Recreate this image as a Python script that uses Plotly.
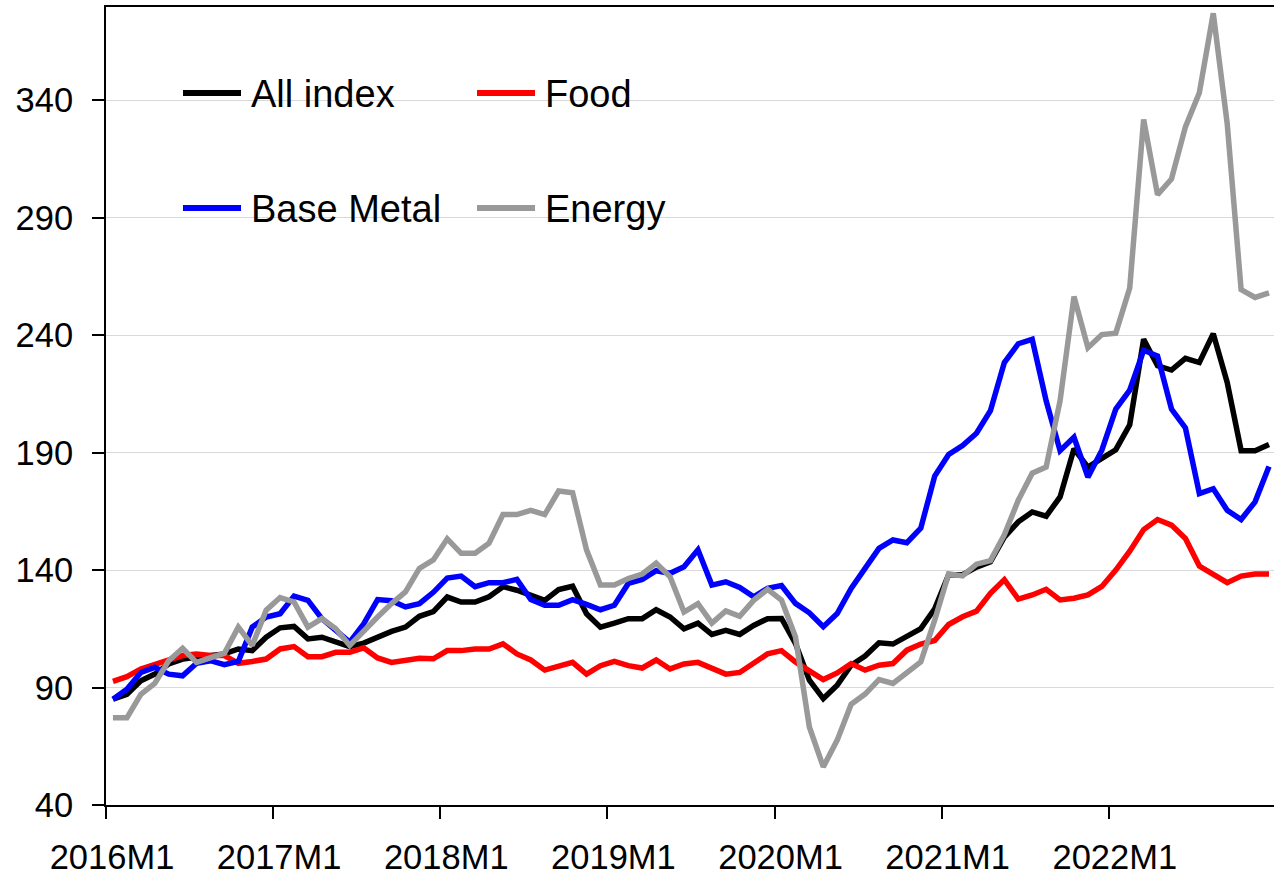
import plotly.graph_objects as go

# ---------------- data ----------------
MONTHS = [f"{y}M{m}" for y in range(2016, 2023) for m in range(1, 13)]
TICK_LABELS = ["2016M1", "2017M1", "2018M1", "2019M1", "2020M1", "2021M1", "2022M1"]
Y_TICKS = [40, 90, 140, 190, 240, 290, 340]

ALL_INDEX = [
    85.0, 87.1, 92.9, 95.7, 100.0, 102.1, 102.9, 103.6, 104.3, 106.4, 105.7, 111.4,
    115.4, 116.0, 110.7, 111.4, 109.3, 107.4, 108.9, 111.4, 113.9, 115.7, 120.3, 122.3,
    128.5, 126.4, 126.4, 128.6, 132.9, 131.4, 129.3, 127.1, 131.7, 133.1, 121.4, 115.7,
    117.4, 119.3, 119.3, 123.1, 120.0, 115.0, 117.4, 112.6, 114.3, 112.6, 116.4, 119.3,
    119.4, 108.8, 93.1, 85.3, 91.0, 99.5, 103.4, 109.0, 108.5, 111.9, 115.1, 123.5,
    138.0, 138.0, 141.2, 143.5, 154.0, 160.5, 164.7, 162.9, 171.1, 191.6, 183.8, 187.5,
    191.2, 201.8, 238.2, 226.9, 225.1, 230.1, 228.3, 240.6, 219.8, 190.8, 190.8, 193.4,
]
FOOD = [
    92.6, 94.6, 97.9, 100.0, 101.7, 103.6, 104.3, 103.6, 103.6, 100.3, 101.1, 102.1,
    106.4, 107.4, 103.1, 103.1, 105.0, 105.0, 106.9, 102.6, 100.7, 101.4, 102.4, 102.2,
    105.7, 105.7, 106.4, 106.4, 108.6, 104.3, 101.7, 97.4, 99.3, 100.7, 95.7, 99.3,
    101.1, 99.3, 98.3, 101.7, 97.9, 100.0, 100.7, 98.3, 95.7, 96.4, 100.7, 104.3,
    105.7, 100.9, 97.1, 93.4, 96.2, 100.2, 97.4, 99.5, 100.2, 105.9, 108.5, 110.0,
    116.8, 120.1, 122.5, 130.1, 135.9, 127.6, 129.4, 131.8, 127.3, 128.0, 129.4, 133.0,
    140.0, 148.0, 157.2, 161.5, 159.1, 153.4, 141.7, 138.3, 134.6, 137.4, 138.3, 138.3,
]
BASE_METAL = [
    85.0, 89.3, 96.4, 98.6, 95.7, 95.0, 100.3, 101.4, 99.7, 101.1, 115.7, 120.0,
    121.4, 128.9, 127.1, 119.3, 114.3, 109.3, 117.1, 127.4, 126.9, 124.3, 125.7, 130.5,
    136.6, 137.4, 132.9, 134.6, 134.6, 136.0, 127.4, 125.0, 125.0, 127.4, 125.4, 123.1,
    125.0, 134.3, 136.0, 139.7, 138.6, 141.4, 148.6, 133.6, 135.0, 132.6, 128.6, 132.2,
    133.4, 125.8, 121.8, 115.9, 121.5, 132.2, 140.7, 149.2, 152.8, 151.6, 157.8, 180.0,
    189.2, 193.0, 198.2, 207.8, 228.3, 236.3, 238.2, 212.0, 190.8, 196.5, 179.5, 191.0,
    208.5, 216.5, 233.5, 231.1, 208.5, 200.5, 172.5, 174.6, 165.4, 161.5, 169.0, 184.1,
]
ENERGY = [
    77.1, 77.1, 87.1, 91.7, 101.4, 106.7, 100.7, 102.9, 104.6, 115.7, 107.9, 122.9,
    128.3, 126.4, 115.7, 119.3, 115.0, 107.9, 114.3, 120.0, 125.7, 130.7, 140.7, 144.3,
    153.3, 147.1, 147.1, 151.4, 163.6, 163.6, 165.4, 163.6, 173.6, 172.9, 148.6, 133.6,
    133.6, 136.4, 138.3, 142.9, 137.1, 122.1, 125.7, 117.4, 122.6, 120.3, 127.1, 131.8,
    127.2, 111.6, 73.2, 56.2, 67.6, 82.9, 87.2, 93.4, 91.7, 96.0, 100.9, 118.7,
    138.4, 137.5, 142.5, 144.0, 155.0, 169.7, 181.2, 183.8, 212.0, 256.4, 234.6, 240.2,
    240.8, 260.0, 331.7, 299.7, 306.4, 328.6, 343.1, 376.9, 330.0, 259.3, 256.0, 257.9,
]

SERIES_NAMES = ["All index", "Food", "Base Metal", "Energy"]
SERIES_VALUES = [ALL_INDEX, FOOD, BASE_METAL, ENERGY]
SERIES_COLORS = ["#000000", "#ff0000", "#0000ff", "#999999"]

# ---------------- layout constants (pixels) ----------------
W, H = 1274, 875
PLOT_L, PLOT_R, PLOT_T, PLOT_B = 106, 1274, 7, 805
FONT = "Liberation Sans, Arial, sans-serif"


def px_x(px):
    return (px - PLOT_L) / (PLOT_R - PLOT_L)


def px_y(py):
    return (PLOT_B - py) / (PLOT_B - PLOT_T)


x_idx = list(range(len(MONTHS)))

fig = go.Figure()
for name, vals, col in zip(SERIES_NAMES, SERIES_VALUES, SERIES_COLORS):
    fig.add_trace(go.Scatter(
        x=x_idx, y=vals, name=name, mode="lines",
        line=dict(color=col, width=5.5),
        customdata=MONTHS, hovertemplate="%{customdata}: %{y}<extra>" + name + "</extra>",
        showlegend=False,
    ))

# manual legend (2 x 2 grid, white box hiding the gridlines)
shapes = [dict(type="rect", xref="paper", yref="paper",
               x0=px_x(165), x1=px_x(751), y0=px_y(250), y1=px_y(58),
               fillcolor="white", line=dict(width=0), layer="between")]
annotations = []
leg_cols = [183, 477]
leg_rows = [93, 208]
for k, (name, col) in enumerate(zip(SERIES_NAMES, SERIES_COLORS)):
    lx = leg_cols[k % 2]
    ly = leg_rows[k // 2]
    shapes.append(dict(type="line", xref="paper", yref="paper",
                       x0=px_x(lx), x1=px_x(lx + 58), y0=px_y(ly), y1=px_y(ly),
                       line=dict(color=col, width=6), layer="above"))
    annotations.append(dict(text=name, xref="paper", yref="paper",
                            x=px_x(lx + 66), y=px_y(ly + 1), xanchor="left", yanchor="middle",
                            showarrow=False, font=dict(size=38, color="black", family=FONT)))

fig.update_layout(
    width=W, height=H, autosize=False,
    margin=dict(l=PLOT_L, r=W - PLOT_R, t=PLOT_T, b=H - PLOT_B, autoexpand=False),
    paper_bgcolor="white", plot_bgcolor="white",
    font=dict(family=FONT, color="black"),
    shapes=shapes, annotations=annotations,
    showlegend=False,
)
fig.update_xaxes(
    range=[-0.5, 83.36], automargin=False,
    tickmode="array", tickvals=[-0.5 + 12 * k for k in range(len(TICK_LABELS))], ticktext=TICK_LABELS,
    ticks="outside", ticklen=12, tickwidth=2, tickcolor="black",
    showline=True, linewidth=2, linecolor="black", mirror=True,
    showgrid=False, zeroline=False,
    tickfont=dict(size=34.5, family=FONT, color="black"),
    ticklabelstandoff=9, ticklabelshift=6,
)
fig.update_yaxes(
    range=[40, 379.6], automargin=False,
    tickmode="array", tickvals=Y_TICKS,
    ticks="outside", ticklen=12, tickwidth=2, tickcolor="black",
    showline=True, linewidth=2, linecolor="black",
    showgrid=True, gridcolor="#d9d9d9", gridwidth=1, zeroline=False,
    tickfont=dict(size=34.5, family=FONT, color="black"),
    ticklabelstandoff=12,
)

# remove the default 8px page margin so the figure fills the window exactly
fig.write_html(
    "out.html",
    config={"displayModeBar": False},
    post_script="document.body.style.margin='0px';document.body.style.overflow='hidden';",
)
